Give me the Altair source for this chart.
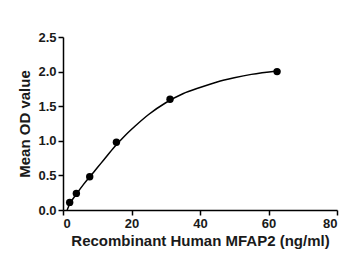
import altair as alt
import pandas as pd

# measured points
conc = [1.95, 3.9, 7.8, 15.6, 31.25, 62.5]
od = [0.11, 0.24, 0.48, 0.98, 1.60, 2.00]

# fitted curve
curve_x = [1.2, 2, 4, 6, 8, 10, 12, 15, 18, 21, 25, 30, 35, 40, 45, 50, 55, 62.5]
curve_y = [0.0, 0.09, 0.235, 0.37, 0.49, 0.61, 0.73, 0.91, 1.07, 1.21, 1.38, 1.55, 1.68, 1.77, 1.85, 1.91, 1.96, 2.01]

x_ticks = [0, 20, 40, 60, 80]
y_ticks = [0, 0.5, 1.0, 1.5, 2.0, 2.5]

pts = pd.DataFrame({"x": conc, "y": od})
crv = pd.DataFrame({"x": curve_x, "y": curve_y})

xscale = alt.Scale(domain=[0, 80], nice=False, zero=True)
yscale = alt.Scale(domain=[0, 2.5], nice=False)

common = dict(
    grid=False, labelOverlap=False,
    labelFont="Liberation Sans", labelFontWeight="bold", labelFontSize=13, labelColor="#1a1a1a",
    titleFont="Liberation Sans", titleFontWeight="bold", titleFontSize=15, titleColor="#1a1a1a",
    domainColor="black", domainWidth=1.5, tickColor="black", tickWidth=1.5, tickSize=5,
    labelPadding=2,
)
xaxis = alt.Axis(title="Recombinant Human MFAP2 (ng/ml)", values=x_ticks,
                 titlePadding=3, **common)
yaxis = alt.Axis(title="Mean OD value", values=y_ticks, format=".1f",
                 titlePadding=5, **common)

enc = dict(
    x=alt.X("x:Q", scale=xscale, axis=xaxis),
    y=alt.Y("y:Q", scale=yscale, axis=yaxis),
)

line = alt.Chart(crv).mark_line(color="black", strokeWidth=1.5, interpolate="monotone").encode(**enc)
points = alt.Chart(pts).mark_circle(color="black", size=55, opacity=1).encode(**enc)

chart = (line + points).properties(
    width=274, height=173,
    autosize=alt.AutoSizeParams(type="none"),
    padding={"left": 55, "top": 29, "right": 13, "bottom": 60},
    background="white",
).configure_view(stroke=None)

chart.save("out.html", embed_options={"renderer": "svg", "actions": False})
